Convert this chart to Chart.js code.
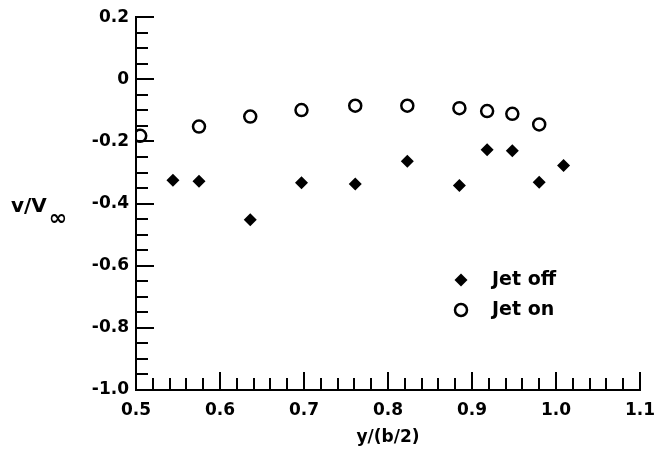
<!DOCTYPE html>
<html>
<head>
<meta charset="utf-8">
<script src="https://cdn.jsdelivr.net/npm/chart.js@4/dist/chart.umd.min.js"></script>
<style>
  html, body { margin: 0; padding: 0; background: #fff; }
  #chart { display: block; }
</style>
</head>
<body>
<canvas id="chart" width="671" height="455"></canvas>
<script>
const jetOff_x = [0.544, 0.575, 0.636, 0.697, 0.761, 0.823, 0.885, 0.918, 0.948, 0.980, 1.009];
const jetOff_v = [-0.325, -0.328, -0.452, -0.333, -0.337, -0.264, -0.342, -0.227, -0.230, -0.331, -0.277];
const jetOn_x  = [0.505, 0.575, 0.636, 0.697, 0.761, 0.823, 0.885, 0.918, 0.948, 0.980];
const jetOn_v  = [-0.182, -0.152, -0.120, -0.099, -0.085, -0.085, -0.093, -0.102, -0.111, -0.145];
const seriesNames = ['Jet off', 'Jet on'];
const xTicks = [0.5, 0.6, 0.7, 0.8, 0.9, 1.0, 1.1];
const yTicks = [0.2, 0, -0.2, -0.4, -0.6, -0.8, -1.0];

const FAMILY = '"DejaVu Sans", sans-serif';

const toPts = (xs, ys) => xs.map((x, i) => ({ x: x, y: ys[i] }));

// ticks drawn inward (major + minor), titles, legend
const decorations = {
    id: 'decorations',
    afterDraw(chart) {
        const { ctx, chartArea, scales } = chart;
        const xs = scales.x, ys = scales.y;
        ctx.save();
        ctx.strokeStyle = '#000';
        ctx.lineWidth = 2;
        ctx.beginPath();
        // x ticks: major every 0.1, minor every 0.02
        for (let i = 0; i <= 30; i++) {
            const v = xTicks[0] + i * 0.02;
            const px = Math.round(xs.getPixelForValue(v));
            const len = (i % 5 === 0) ? 18 : 12;
            ctx.moveTo(px, chartArea.bottom);
            ctx.lineTo(px, chartArea.bottom - len);
        }
        // y ticks: major every 0.2, minor every 0.05
        for (let i = 0; i <= 24; i++) {
            const v = -1.0 + i * 0.05;
            const py = Math.round(ys.getPixelForValue(v));
            const len = (i % 4 === 0) ? 18 : 12;
            ctx.moveTo(chartArea.left, py);
            ctx.lineTo(chartArea.left + len, py);
        }
        ctx.stroke();

        // axis titles
        ctx.fillStyle = '#000';
        ctx.font = 'bold 17px ' + FAMILY;
        ctx.textAlign = 'center';
        ctx.textBaseline = 'middle';
        ctx.fillText('y/(b/2)', (chartArea.left + chartArea.right) / 2, 438);
        ctx.textAlign = 'left';
        ctx.textBaseline = 'alphabetic';
        ctx.font = 'bold 20px ' + FAMILY;
        ctx.fillText('v/V', 11, 212);
        const w = ctx.measureText('v/V').width;
        ctx.font = 'bold 22px ' + FAMILY;
        ctx.fillText('\u221E', 11 + w + 2, 225);

        // legend
        const ds = chart.data.datasets;
        const rows = [280, 310];
        ds.forEach((d, i) => {
            const cy = rows[i];
            ctx.beginPath();
            if (d.pointStyle === 'rectRot') {
                const r = d.pointRadius;
                ctx.moveTo(461, cy - r);
                ctx.lineTo(461 + r, cy);
                ctx.lineTo(461, cy + r);
                ctx.lineTo(461 - r, cy);
                ctx.closePath();
                ctx.fillStyle = d.backgroundColor;
                ctx.fill();
            } else {
                ctx.arc(461, cy, d.pointRadius, 0, Math.PI * 2);
                ctx.lineWidth = d.pointBorderWidth;
                ctx.stroke();
            }
            ctx.fillStyle = '#000';
            ctx.font = 'bold 19px ' + FAMILY;
            ctx.textAlign = 'left';
            ctx.textBaseline = 'middle';
            ctx.fillText(d.label, 492, cy);
        });
        ctx.restore();
    }
};

new Chart(document.getElementById('chart'), {
    type: 'scatter',
    data: {
        datasets: [{
            label: seriesNames[0],
            data: toPts(jetOff_x, jetOff_v),
            pointStyle: 'rectRot',
            pointRadius: 6.5,
            pointBorderWidth: 0,
            backgroundColor: '#000',
            borderColor: '#000',
        }, {
            label: seriesNames[1],
            data: toPts(jetOn_x, jetOn_v),
            pointStyle: 'circle',
            pointRadius: 6,
            pointBorderWidth: 2.5,
            backgroundColor: 'rgba(0,0,0,0)',
            borderColor: '#000',
        }]
    },
    options: {
        responsive: false,
        animation: false,
        layout: { padding: { top: 15, right: 31, left: 0, bottom: 0 } },
        plugins: {
            legend: { display: false },
            tooltip: { enabled: false },
        },
        scales: {
            x: {
                type: 'linear',
                min: 0.5, max: 1.1,
                afterBuildTicks: s => { s.ticks = xTicks.map(v => ({ value: v })); },
                afterFit: s => { s.height = 65; },
                ticks: {
                    color: '#000', font: { family: FAMILY, size: 17, weight: 'bold' },
                    padding: 10, maxRotation: 0,
                    callback: v => v.toFixed(1)
                },
                grid: { display: false, drawTicks: false },
                border: { display: true, color: '#000', width: 2 }
            },
            y: {
                type: 'linear',
                min: -1.0, max: 0.2,
                afterBuildTicks: s => { s.ticks = yTicks.map(v => ({ value: v })); },
                afterFit: s => { s.width = 136; },
                ticks: {
                    color: '#000', font: { family: FAMILY, size: 17, weight: 'bold' },
                    padding: 7,
                    callback: v => Math.abs(v) < 1e-9 ? '0' : v.toFixed(1)
                },
                grid: { display: false, drawTicks: false },
                border: { display: true, color: '#000', width: 2 }
            }
        }
    },
    plugins: [decorations]
});
</script>
</body>
</html>
